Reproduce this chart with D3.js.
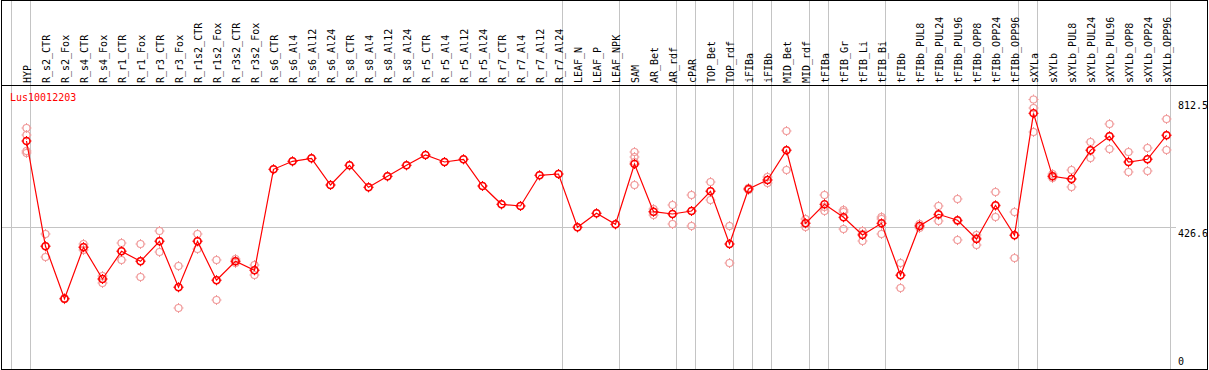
<!DOCTYPE html>
<html>
<head>
<meta charset="utf-8">
<script src="https://cdn.jsdelivr.net/npm/d3@7"></script>
<style>
  body { margin: 0; background: #fff; }
  text { font-family: "DejaVu Sans Mono", monospace; font-size: 10px; }
</style>
</head>
<body>
<div id="chart"></div>
<script>
var w = 1209, h = 370;
var plotTop = 86, plotBottom = 369, headerLine = 85;

// Gene name shown in the corner
var geneName = "Lus10012203";

// Sample columns
var samples = ["HYP", "R_s2_CTR", "R_s2_Fox", "R_s4_CTR", "R_s4_Fox", "R_r1_CTR", "R_r1_Fox", "R_r3_CTR", "R_r3_Fox",
  "R_r1s2_CTR", "R_r1s2_Fox", "R_r3s2_CTR", "R_r3s2_Fox", "R_s6_CTR", "R_s6_Al4", "R_s6_Al12", "R_s6_Al24",
  "R_s8_CTR", "R_s8_Al4", "R_s8_Al12", "R_s8_Al24", "R_r5_CTR", "R_r5_Al4", "R_r5_Al12", "R_r5_Al24",
  "R_r7_CTR", "R_r7_Al4", "R_r7_Al12", "R_r7_Al24", "LEAF_N", "LEAF_P", "LEAF_NPK", "SAM", "AR_Bet", "AR_rdf",
  "cPAR", "TOP_Bet", "TOP_rdf", "iFIBa", "iFIBb", "MID_Bet", "MID_rdf", "tFIBa", "tFIB_Gr", "tFIB_Li", "tFIB_Bi",
  "tFIBb", "tFIBb_PUL8", "tFIBb_PUL24", "tFIBb_PUL96", "tFIBb_OPP8", "tFIBb_OPP24", "tFIBb_OPP96",
  "sXYLa", "sXYLb", "sXYLb_PUL8", "sXYLb_PUL24", "sXYLb_PUL96", "sXYLb_OPP8", "sXYLb_OPP24", "sXYLb_OPP96"];

// Number of samples in each tissue group (separated by grey lines)
var groupSizes = [1, 28, 3, 3, 1, 2, 1, 1, 2, 1, 3, 7, 1, 7];

// Mean expression per sample
var means = [687.3, 369.9, 211.9, 366.9, 271.3, 354.8, 324.7, 385.0, 246.3, 385.0, 267.4, 324.7, 297.5,
  602.0, 626.1, 635.2, 554.7, 614.1, 547.8, 580.9, 614.1, 645.1, 624.0, 632.2, 551.7, 496.5, 491.4, 583.9, 587.8,
  427.2, 469.4, 436.2, 618.0, 474.2, 467.3, 476.3, 535.7, 376.8, 542.6, 569.8, 659.3, 439.2, 496.5, 457.3, 404.0,
  439.2, 282.5, 431.1, 466.4, 448.3, 391.9, 493.5, 403.1, 770.8, 580.9, 572.8, 659.3, 701.5, 624.0, 632.2, 704.5];

// Individual replicates per sample
var replicates = [
  [726.5, 705.4, 657.2, 651.2], [407.0, 370.8, 337.6], [213.5, 210.5], [376.8, 367.8, 358.7], [280.4, 271.3, 259.3],
  [379.8, 355.7, 328.6], [376.8, 325.6, 277.3], [416.0, 385.9, 352.7], [310.5, 247.2, 183.9], [407.0, 385.9, 361.8],
  [328.6, 268.3, 208.0], [331.6, 325.6, 319.5], [313.5, 298.4, 283.4],
  [602.0], [626.1], [635.2], [554.7], [614.1], [547.8], [580.9], [614.1], [645.1], [624.0], [632.2], [551.7],
  [496.5], [491.4], [583.9], [587.8], [427.2], [469.4], [436.2],
  [654.2, 639.1, 624.0, 554.7], [482.3, 473.3, 464.2], [494.4, 467.3, 437.1], [524.5, 476.3, 431.1],
  [563.7, 536.6, 509.5], [431.1, 376.8, 319.5], [545.6, 542.6, 539.6], [578.8, 569.8, 560.7],
  [717.5, 660.2, 599.9], [452.2, 440.1, 428.1], [524.5, 488.4, 476.3], [479.3, 473.3, 422.0],
  [416.0, 407.0, 385.9], [458.2, 452.2, 407.0], [319.5, 283.4, 244.2], [437.1, 431.1, 425.1],
  [491.4, 464.2, 446.2], [512.5, 446.2, 388.9], [404.0, 394.9, 373.8], [533.6, 491.4, 458.2],
  [473.3, 404.0, 334.6], [812.5, 786.8, 714.5], [587.8, 581.8, 575.8], [599.9, 572.8, 548.7],
  [684.3, 660.2, 636.1], [738.6, 702.4, 663.2], [654.2, 624.0, 593.9], [666.2, 633.1, 596.9],
  [753.7, 705.4, 660.2]];

// Value ticks on the right
var maxValue = 812.5;
var tickValues = [0, 426.6, 812.5];

// Create svg element
var svg = d3.select("#chart")
  .append("svg")
    .attr("width", w)
    .attr("height", h);

// Create scale functions
var xScale = d3.scaleLinear().domain([0, samples.length - 1]).range([26.5, 1166.5]);
var yScale = d3.scaleLinear().domain([0, maxValue * 1.05]).range([plotBottom, plotTop]);

// Group separator positions (start of each group and end of the last)
var sepIndex = [];
var acc = 0;
groupSizes.forEach(function(n) { sepIndex.push(acc); acc += n; });
sepIndex.push(acc);

svg.selectAll(".sep").data(sepIndex).enter().append("line")
  .attr("class", "sep")
  .attr("x1", function(d) { return Math.round(xScale(d - 0.8)) + 0.5; })
  .attr("x2", function(d) { return Math.round(xScale(d - 0.8)) + 0.5; })
  .attr("y1", 0)
  .attr("y2", plotBottom)
  .attr("stroke", "#c4c4c4");

// Middle grid line
svg.append("line")
  .attr("x1", 1)
  .attr("x2", 1176)
  .attr("y1", Math.round(yScale(tickValues[1])) + 0.5)
  .attr("y2", Math.round(yScale(tickValues[1])) + 0.5)
  .attr("stroke", "#c4c4c4");

// Frame and header line
svg.append("rect")
  .attr("x", 1.5).attr("y", 0.5)
  .attr("width", 1206).attr("height", 369)
  .attr("fill", "none")
  .attr("stroke", "#000");
svg.append("line")
  .attr("x1", 1).attr("x2", 1208)
  .attr("y1", headerLine + 0.5).attr("y2", headerLine + 0.5)
  .attr("stroke", "#000");

// Sample labels (rotated)
svg.selectAll(".lab").data(samples).enter().append("text")
  .attr("class", "lab")
  .attr("transform", function(d, i) { return "translate(" + (xScale(i) + 4) + "," + 83 + ") rotate(-90)"; })
  .attr("fill", "#000")
  .text(function(d) { return d; });

// Value labels on the right
svg.selectAll(".tick").data(tickValues).enter().append("text")
  .attr("class", "tick")
  .attr("x", 1178)
  .attr("y", function(d) { return Math.min(yScale(d) + 10, 365); })
  .attr("fill", "#000")
  .text(function(d) { return d; });

// Gene name
svg.append("text")
  .attr("x", 10)
  .attr("y", 101)
  .attr("fill", "#ff0000")
  .text(geneName);

// Small circle marker with four ticks
function marker(g, cx, cy, color, sw) {
  var r = 3.5;
  g.append("circle")
    .attr("cx", cx).attr("cy", cy).attr("r", r)
    .attr("fill", "none")
    .attr("stroke", color)
    .attr("stroke-width", sw);
  [[0, -1], [0, 1], [-1, 0], [1, 0]].forEach(function(o) {
    g.append("line")
      .attr("x1", cx + o[0] * r).attr("y1", cy + o[1] * r)
      .attr("x2", cx + o[0] * (r + 1.5)).attr("y2", cy + o[1] * (r + 1.5))
      .attr("stroke", color)
      .attr("stroke-width", 1);
  });
}

// Replicates
var repG = svg.append("g");
replicates.forEach(function(reps, i) {
  reps.forEach(function(v) { marker(repG, xScale(i), yScale(v), "#f09a9a", 1.2); });
});

// Line through means
var line = d3.line()
  .x(function(d, i) { return xScale(i); })
  .y(function(d) { return yScale(d); });
svg.append("path")
  .datum(means)
  .attr("d", line)
  .attr("fill", "none")
  .attr("stroke", "#ff0000")
  .attr("stroke-width", 1.2);

// Means
var meanG = svg.append("g");
means.forEach(function(v, i) { marker(meanG, xScale(i), yScale(v), "#ff0000", 1.6); });
</script>
</body>
</html>
